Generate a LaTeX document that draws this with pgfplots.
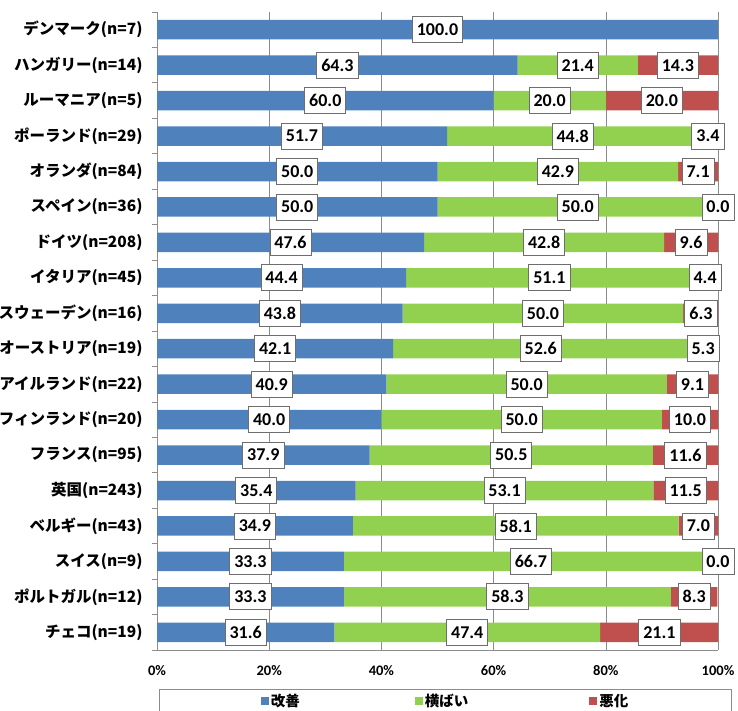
\documentclass[border=0pt]{standalone}
\usepackage{pgfplots}
\usepackage{pgfplotstable}
\pgfplotsset{compat=1.18}
\usepackage{fontspec}
\setmainfont{Carlito}
\newfontfamily\cjk{Noto Sans CJK JP}

\definecolor{cBlue}{HTML}{4F81BD}
\definecolor{cGreen}{HTML}{92D050}
\definecolor{cRed}{HTML}{C0504D}
\definecolor{cGrid}{HTML}{8C8C8C}
\definecolor{cBorder}{HTML}{6E6E6E}

% i: row index (top to bottom); a: 改善, b: 横ばい, c: 悪化
\pgfplotstableread{
i a b c
0 100.0 0.0 0.0
1 64.3 21.4 14.3
2 60.0 20.0 20.0
3 51.7 44.8 3.4
4 50.0 42.9 7.1
5 50.0 50.0 0.0
6 47.6 42.8 9.6
7 44.4 51.1 4.4
8 43.8 50.0 6.3
9 42.1 52.6 5.3
10 40.9 50.0 9.1
11 40.0 50.0 10.0
12 37.9 50.5 11.6
13 35.4 53.1 11.5
14 34.9 58.1 7.0
15 33.3 66.7 0.0
16 33.3 58.3 8.3
17 31.6 47.4 21.1
}\datatable

\pgfplotsset{
  sq/.style={legend image code/.code={\fill[##1] (0pt,-4pt) rectangle (8pt,4pt);}},
  frame/.style={
    at={(157pt,-650pt)}, anchor=south west,
    scale only axis, width=561pt, height=638pt,
    xmin=0, xmax=100, ymin=-0.5, ymax=17.5, y dir=reverse,
  },
}

\begin{document}
\begin{tikzpicture}
\begin{axis}[
  frame,
  xbar stacked, bar width=19.5pt,
  axis x line*=bottom, axis y line*=left,
  axis line style={draw=cGrid, line width=0.8pt},
  xmajorgrids, grid style={draw=cGrid, line width=0.6pt},
  xtick={0,20,...,100},
  xticklabel={\pgfmathprintnumber[assume math mode=true]{\tick}\%},
  xticklabel style={font=\bfseries\fontsize{14.5}{16}\selectfont, yshift=-7pt},
  major x tick style={draw=none},
  ytick={0,...,17},
  yticklabels={
    {デンマーク(n=7)},{ハンガリー(n=14)},{ルーマニア(n=5)},{ポーランド(n=29)},
    {オランダ(n=84)},{スペイン(n=36)},{ドイツ(n=208)},{イタリア(n=45)},
    {スウェーデン(n=16)},{オーストリア(n=19)},{アイルランド(n=22)},
    {フィンランド(n=20)},{フランス(n=95)},{英国(n=243)},{ベルギー(n=43)},
    {スイス(n=9)},{ポルトガル(n=12)},{チェコ(n=19)}},
  yticklabel style={font=\cjk\bfseries\fontsize{15.5}{17}\selectfont, xshift=-6pt},
  major y tick style={draw=none},
  minor ytick={-0.5,0.5,...,17.5},
  minor y tick style={draw=cGrid, line width=0.8pt},
  tick align=outside, minor tick length=5pt, major tick length=5pt,
  legend columns=3,
  legend style={
    at={(rel axis cs:0.5143,-0.0611)}, anchor=north,
    draw=cGrid, line width=0.8pt, inner xsep=101.5pt, inner ysep=3pt,
    font=\cjk\bfseries\fontsize{14.5}{16}\selectfont,
    /tikz/column 2/.style={column sep=113pt},
    /tikz/column 4/.style={column sep=119pt},
  },
  legend cell align=left,
]
\addplot[fill=cBlue, draw=none, sq] table[x=a, y=i] {\datatable};
\addplot[fill=cGreen, draw=none, sq] table[x=b, y=i] {\datatable};
\addplot[fill=cRed, draw=none, sq] table[x=c, y=i] {\datatable};
\legend{改善,横ばい,悪化}
\end{axis}

% value labels, centred on each segment
\begin{axis}[
  frame, hide axis,
  nodes near coords={\pgfmathprintnumber[fixed,fixed zerofill,precision=1,assume math mode=true]{\pgfplotspointmeta}},
  every node near coord/.append style={
    anchor=center, fill=white, draw=cBorder, line width=0.8pt, text=black,
    font=\bfseries\fontsize{18}{20}\selectfont,
    inner xsep=4.5pt, inner ysep=0pt, minimum height=26pt},
  point meta=explicit,
  clip=false,
]
\addplot[draw=none] table[x expr=\thisrow{a}/2, y=i, meta=a] {\datatable};
\addplot[draw=none, skip coords between index={0}{1}]
  table[x expr=\thisrow{a}+\thisrow{b}/2, y=i, meta=b] {\datatable};
\addplot[draw=none, skip coords between index={0}{1}]
  table[x expr=\thisrow{a}+\thisrow{b}+\thisrow{c}/2, y=i, meta=c] {\datatable};
\end{axis}
\pgfresetboundingbox
\path[use as bounding box] (0pt,0pt) rectangle (738pt,-711pt);
\end{tikzpicture}
\end{document}
